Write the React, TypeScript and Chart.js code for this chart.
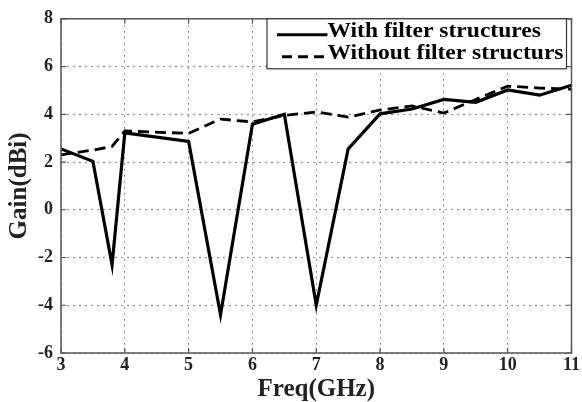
import React, { useEffect, useRef } from "react";
import { Chart, registerables } from "chart.js";

Chart.register(...registerables);

const freqWith = [3, 3.5, 3.8, 4.0, 5.0, 5.5, 6.0, 6.5, 7.0, 7.5, 8.0, 8.5, 9.0, 9.5, 10, 10.5, 11];
const gainWith = [2.55, 2.03, -2.3, 3.22, 2.86, -4.4, 3.58, 4.0, -4.0, 2.55, 4.02, 4.22, 4.62, 4.5, 5.02, 4.8, 5.22];

const freqWithout = [3, 3.5, 3.8, 4.0, 5.0, 5.5, 6.0, 6.5, 7.0, 7.5, 8.0, 8.5, 9.0, 9.5, 10, 10.5, 11];
const gainWithout = [2.3, 2.5, 2.65, 3.3, 3.2, 3.8, 3.68, 3.95, 4.1, 3.88, 4.18, 4.35, 4.05, 4.62, 5.18, 5.1, 5.05];

const seriesLabels = ["With filter structures", "Without filter structurs"];
const xTicks = [3, 4, 5, 6, 7, 8, 9, 10, 11];
const yTicks = [-6, -4, -2, 0, 2, 4, 6, 8];
const xTitle = "Freq(GHz)";
const yTitle = "Gain(dBi)";

const FONT = "'Liberation Serif', 'Times New Roman', serif";

const boxPlugin = {
  id: "boxPlugin",
  afterDraw(chart: any) {
    const { ctx, chartArea } = chart;
    const xs = chart.scales.x;
    const ys = chart.scales.y;
    ctx.save();
    // plot frame
    ctx.strokeStyle = "#555";
    ctx.lineWidth = 1.5;
    ctx.strokeRect(chartArea.left, chartArea.top, chartArea.right - chartArea.left, chartArea.bottom - chartArea.top);
    // inward tick marks
    ctx.lineWidth = 1.2;
    ctx.beginPath();
    xs.ticks.forEach((t: any) => {
      const px = xs.getPixelForValue(t.value);
      ctx.moveTo(px, chartArea.bottom);
      ctx.lineTo(px, chartArea.bottom - 5);
      ctx.moveTo(px, chartArea.top);
      ctx.lineTo(px, chartArea.top + 5);
    });
    ys.ticks.forEach((t: any) => {
      const py = ys.getPixelForValue(t.value);
      ctx.moveTo(chartArea.left, py);
      ctx.lineTo(chartArea.left + 5, py);
      ctx.moveTo(chartArea.right, py);
      ctx.lineTo(chartArea.right - 5, py);
    });
    ctx.stroke();

    // legend
    const sx = 1.12;
    ctx.font = `bold 21px ${FONT}`;
    const w0 = ctx.measureText(seriesLabels[0]).width * sx;
    const w1 = ctx.measureText(seriesLabels[1]).width * sx;
    const tw = Math.max(w0, w1);
    const boxRight = chartArea.right - 5;
    const boxLeft = 267;
    const boxTop = chartArea.top;
    const boxH = 50;
    ctx.fillStyle = "#fff";
    ctx.fillRect(boxLeft, boxTop, boxRight - boxLeft, boxH);
    ctx.strokeStyle = "#333";
    ctx.lineWidth = 1.2;
    ctx.strokeRect(boxLeft, boxTop, boxRight - boxLeft, boxH);
    const textX = boxRight - 3 - tw;
    const rows = [boxTop + 13, boxTop + 35];
    const dashes = [[], [10, 6]];
    const starts = [boxLeft + 10, boxLeft + 15];
    for (let i = 0; i < 2; i++) {
      const y = rows[i];
      ctx.beginPath();
      ctx.setLineDash(dashes[i]);
      ctx.strokeStyle = "#000";
      ctx.lineWidth = 3;
      ctx.moveTo(starts[i], y + 3);
      ctx.lineTo(textX, y + 3);
      ctx.stroke();
      ctx.setLineDash([]);
      ctx.fillStyle = "#000";
      ctx.textBaseline = "middle";
      ctx.textAlign = "left";
      ctx.save();
      ctx.translate(textX, y);
      ctx.scale(sx, 1);
      ctx.fillText(seriesLabels[i], 0, 0);
      ctx.restore();
    }
    ctx.restore();
  },
};

export default function App() {
  const ref = useRef<HTMLCanvasElement>(null);
  useEffect(() => {
    const chart = new Chart(ref.current!, {
      type: "line",
      data: {
        datasets: [
          {
            label: seriesLabels[0],
            data: freqWith.map((x, i) => ({ x, y: gainWith[i] })),
            borderColor: "#000",
            borderWidth: 3.2,
            pointRadius: 0,
            tension: 0,
          },
          {
            label: seriesLabels[1],
            data: freqWithout.map((x, i) => ({ x, y: gainWithout[i] })),
            borderColor: "#000",
            borderWidth: 2.8,
            borderDash: [11, 6],
            pointRadius: 0,
            tension: 0,
          },
        ],
      },
      plugins: [boxPlugin],
      options: {
        animation: false,
        responsive: false,
        devicePixelRatio: 1,
        layout: { padding: { top: 16, right: 10, left: 0, bottom: 0 } },
        plugins: { legend: { display: false }, tooltip: { enabled: false } },
        scales: {
          x: {
            type: "linear",
            min: 3,
            max: 11,
            afterBuildTicks: (s: any) => {
              s.ticks = xTicks.map((v) => ({ value: v }));
            },
            afterFit: (s: any) => {
              s.height = 49;
            },
            ticks: {
              color: "#222",
              font: { family: FONT, size: 18, weight: "bold" },
              padding: 2,
              maxRotation: 0,
              autoSkip: false,
            },
            grid: { color: "#888", lineWidth: 1, drawTicks: false },
            border: { display: false, dash: [2, 4] },
            title: {
              display: true,
              text: xTitle,
              color: "#222",
              font: { family: FONT, size: 25, weight: "bold" },
              padding: { top: 0, bottom: -3 },
            },
          },
          y: {
            type: "linear",
            min: -6,
            max: 8,
            afterBuildTicks: (s: any) => {
              s.ticks = yTicks.map((v) => ({ value: v }));
            },
            afterFit: (s: any) => {
              s.width = 61;
            },
            ticks: {
              color: "#222",
              font: { family: FONT, size: 18, weight: "bold" },
              padding: 8,
              autoSkip: false,
            },
            grid: { color: "#888", lineWidth: 1, drawTicks: false },
            border: { display: false, dash: [2, 4] },
            title: {
              display: true,
              text: yTitle,
              color: "#222",
              font: { family: FONT, size: 25, weight: "bold" },
              padding: { top: 5, bottom: 0 },
            },
          },
        },
      },
    });
    return () => chart.destroy();
  }, []);
  return (
    <div style={{ position: "fixed", left: 0, top: 0, width: 582, height: 402, background: "#fff" }}>
      <canvas ref={ref} width={582} height={402} style={{ width: 582, height: 402 }} />
    </div>
  );
}
